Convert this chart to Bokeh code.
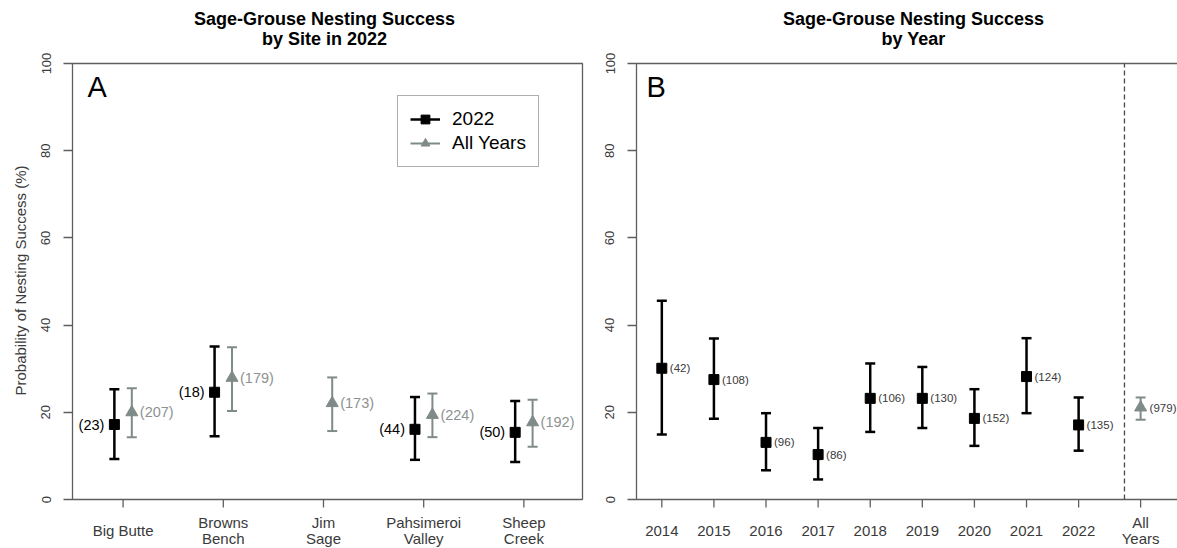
from bokeh.plotting import figure
from bokeh.layouts import row
from bokeh.models import (Range1d, FixedTicker, Label, Legend, LegendItem, Title)
from bokeh.core.properties import value
from bokeh.embed import file_html
from bokeh.resources import INLINE

# ---------------- data ----------------
title_a = ["Sage-Grouse Nesting Success", "by Site in 2022"]
title_b = ["Sage-Grouse Nesting Success", "by Year"]
y_title = "Probability of Nesting Success (%)"

site_names = ["Big Butte", "Browns\nBench", "Jim\nSage", "Pahsimeroi\nValley", "Sheep\nCreek"]
est_2022 = [17.2, 24.6, None, 16.1, 15.4]
lo_2022 = [9.3, 14.5, None, 9.1, 8.6]
hi_2022 = [25.3, 35.1, None, 23.5, 22.6]
n_2022 = [23, 18, None, 44, 50]
est_all = [20.0, 27.9, 22.1, 19.4, 17.7]
lo_all = [14.3, 20.3, 15.7, 14.3, 12.1]
hi_all = [25.5, 34.9, 28.0, 24.3, 22.9]
n_all = [207, 179, 173, 224, 192]

years = ["2014", "2015", "2016", "2017", "2018", "2019", "2020", "2021", "2022"]
est_year = [30.1, 27.5, 13.1, 10.3, 23.2, 23.2, 18.6, 28.2, 17.1]
lo_year = [14.9, 18.5, 6.7, 4.6, 15.5, 16.4, 12.3, 19.8, 11.2]
hi_year = [45.6, 36.9, 19.8, 16.4, 31.2, 30.4, 25.3, 37.0, 23.4]
n_year = [42, 108, 96, 86, 106, 130, 152, 124, 135]
all_label = "All\nYears"
est_allyears = [21.1]
lo_allyears = [18.3]
hi_allyears = [23.4]
n_allyears = [979]

y_ticks = [0, 20, 40, 60, 80, 100]

# ---------------- style / layout ----------------
FONT = "Liberation Sans"
AX = "#5e5e5e"
TXT = "#3a3a3a"
GRAY = "#7f8b88"
GRAY_T = "#8d9291"
OFF = 0.087          # side-by-side offset in panel A
PXY = 4.36           # px per y unit
A_PXX = 100.4        # px per x unit, panel A
B_PXX = 52.1         # px per x unit, panel B
PAD = 2              # px between frame edge and box (left side)
BOX_TOP = 63         # px from top of page to the box top
BELOW = 49           # px of tick-label strip under the box
H = 548
TITLE_MID = [18, 38]   # px (from top) of the middles of the two title lines


def make_fig(width, bl, br, xr):
    p = figure(width=width, height=H, x_range=xr,
               y_range=Range1d(-BELOW / PXY, 100 + BOX_TOP / PXY),
               output_backend="svg", toolbar_location=None,
               min_border_top=0, min_border_bottom=0,
               min_border_left=bl, min_border_right=br)
    p.xgrid.grid_line_color = None
    p.ygrid.grid_line_color = None
    p.outline_line_color = None
    p.xaxis.visible = False
    ax = p.yaxis
    ax.ticker = FixedTicker(ticks=y_ticks)
    ax.axis_line_color = None
    ax.major_tick_line_color = AX
    ax.major_tick_line_width = 1.3
    ax.major_tick_out = 7
    ax.major_tick_in = PAD
    ax.minor_tick_line_color = None
    ax.major_label_orientation = "vertical"
    ax.major_label_text_font = FONT
    ax.major_label_text_font_size = "13px"
    ax.major_label_text_color = TXT
    ax.major_label_standoff = 13
    return p


def titles(p, xc, lines):
    p.text(x=[xc] * len(lines), y=[100 + (BOX_TOP - m) / PXY for m in TITLE_MID],
           text=lines, text_align="center", text_baseline="middle",
           text_font=value(FONT), text_font_size="18px", text_font_style="bold",
           text_color="black")


def errbars(p, xs, lo, hi, color, lw):
    r = p.segment(x0=xs, y0=lo, x1=xs, y1=hi, line_color=color, line_width=lw)
    p.scatter(xs + xs, lo + hi, marker="dash", size=10, line_color=color,
              line_width=lw)
    return r


def x_ticks(p, xs, texts):
    p.segment(x0=xs, y0=[0] * len(xs), x1=xs, y1=[-8 / PXY] * len(xs),
              line_color=AX, line_width=1.3)
    p.text(x=xs, y=[-31 / PXY] * len(xs), text=texts, text_align="center",
           text_baseline="middle", text_font=value(FONT), text_font_size="15px",
           text_color=TXT, text_line_height=0.95)


def panel_letter(p, x, text, dx):
    p.add_layout(Label(x=x, y=100, x_offset=dx, y_offset=-23.5, text=text,
                       text_font=FONT, text_font_size="29px", text_color="black",
                       text_baseline="middle"))


# ---------------- panel A ----------------
xa_lo, xa_hi = 0.495, 5.585
xa = Range1d(xa_lo - PAD / A_PXX, xa_hi + PAD / A_PXX)
pa = make_fig(600, 69, 16, xa)
pa.add_layout(Title(text=y_title, align="left", offset=153,
                    text_font=FONT, text_font_size="15px", text_font_style="normal",
                    text_color=TXT, standoff=19), "left")
titles(pa, xa.start + (323.5 - 69) / A_PXX, title_a)

pa.quad(left=[xa_lo], right=[xa_hi], bottom=[0], top=[100], fill_color=None,
        line_color=AX, line_width=1.3)
pos_a = list(range(1, len(site_names) + 1))

idx = [i for i, v in enumerate(est_2022) if v is not None]
x22 = [pos_a[i] - OFF for i in idx]
y22 = [est_2022[i] for i in idx]
stem22 = errbars(pa, x22, [lo_2022[i] for i in idx], [hi_2022[i] for i in idx], "black", 2.5)
sq22 = pa.scatter(x22, y22, marker="square", size=10, color="black")
pa.text(x=x22, y=y22, text=["(%d)" % n_2022[i] for i in idx],
        x_offset=-10, text_align="right", text_baseline="middle",
        text_font=value(FONT), text_font_size="14.5px", text_color="black")

xal = [x + OFF for x in pos_a]
stemall = errbars(pa, xal, lo_all, hi_all, GRAY, 2)
triall = pa.scatter(xal, est_all, marker="triangle", size=12, color=GRAY)
pa.text(x=xal, y=est_all, text=["(%d)" % n for n in n_all],
        x_offset=8, text_align="left", text_baseline="middle",
        text_font=value(FONT), text_font_size="14.5px", text_color=GRAY_T)
x_ticks(pa, pos_a, site_names)
panel_letter(pa, xa_lo, "A", 15)

leg = Legend(items=[LegendItem(label="2022", renderers=[stem22, sq22]),
                    LegendItem(label="All Years", renderers=[stemall, triall])],
             location=(327, 381), label_text_font=FONT, label_text_font_size="19px",
             label_text_color="black", glyph_width=30, glyph_height=22,
             label_height=22, label_standoff=12, padding=12, spacing=2, margin=0,
             border_line_color=AX, border_line_width=1.2, background_fill_alpha=1)
pa.add_layout(leg)

# ---------------- panel B ----------------
xb_lo = 0.514
xb_start = xb_lo - PAD / B_PXX
xb = Range1d(xb_start, xb_start + 543 / B_PXX)
pb = make_fig(577, 34, 0, xb)
titles(pb, xb_start + (913 - 634) / B_PXX, title_b)
pos_b = list(range(1, len(years) + 1))
pos_all = [10.19]
sep = 9.88
pb.quad(left=[xb_lo], right=[xb.end + 1], bottom=[0], top=[100], fill_color=None,
        line_color=AX, line_width=1.3)
pb.segment(x0=[sep], y0=[0], x1=[sep], y1=[100], line_color="#4a4a4a",
           line_width=1.3, line_dash="5 3")

errbars(pb, pos_b, lo_year, hi_year, "black", 2.5)
pb.scatter(pos_b, est_year, marker="square", size=10, color="black")
pb.text(x=pos_b, y=est_year, text=["(%d)" % n for n in n_year], x_offset=8,
        text_align="left", text_baseline="middle", text_font=value(FONT),
        text_font_size="11.5px", text_color=TXT)

errbars(pb, pos_all, lo_allyears, hi_allyears, GRAY, 2)
pb.scatter(pos_all, est_allyears, marker="triangle", size=12, color=GRAY)
pb.text(x=pos_all, y=est_allyears, text=["(%d)" % n for n in n_allyears], x_offset=9,
        text_align="left", text_baseline="middle", text_font=value(FONT),
        text_font_size="11.5px", text_color=TXT)
x_ticks(pb, pos_b + pos_all, years + [all_label])
panel_letter(pb, xb_lo, "B", 10)

layout = row(pa, pb)
open("out.html", "w").write(file_html(layout, INLINE))
